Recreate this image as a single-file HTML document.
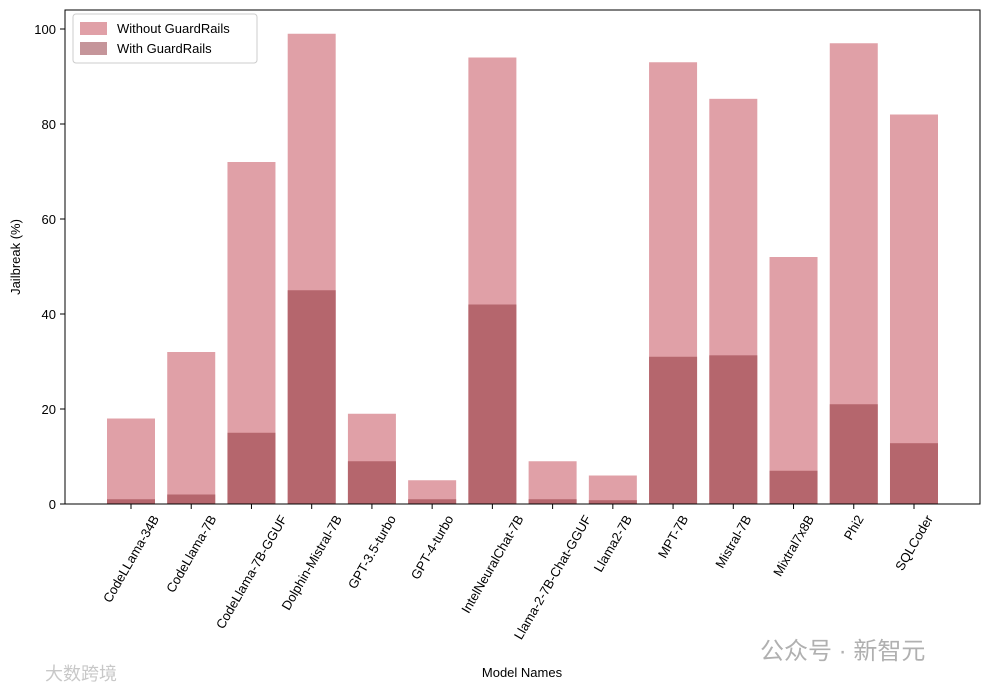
<!DOCTYPE html>
<html><head><meta charset="utf-8"><style>
body{margin:0;background:#fff;}
svg{display:block;font-family:"Liberation Sans","DejaVu Sans",sans-serif;}
</style></head><body>
<svg id="chart" width="989" height="690" viewBox="0 0 989 690" xmlns="http://www.w3.org/2000/svg">
<rect width="989" height="690" fill="#fff"/>
<g id="bars"></g>
<g id="axes"></g>
<g>
<rect x="73" y="14" width="184" height="49" fill="#fff" stroke="#ccc" rx="3"/>
<rect x="80" y="22" width="27" height="13" fill="#e0a0a7"/>
<text x="117" y="33" font-size="13">Without GuardRails</text>
<rect x="80" y="42" width="27" height="13" fill="#c5959a"/>
<text x="117" y="53" font-size="13">With GuardRails</text>
</g>
<text x="522" y="677" font-size="13" text-anchor="middle">Model Names</text>
<text transform="translate(20,257) rotate(-90)" font-size="13" text-anchor="middle">Jailbreak (%)</text>
<text x="760" y="659" font-size="24" fill="#b0b0b0" font-family="'Liberation Sans','Noto Sans CJK SC',sans-serif">公众号 · 新智元</text>
<text x="45" y="680" font-size="18" fill="#c8c8c8" font-family="'Liberation Sans','Noto Sans CJK SC',sans-serif">大数跨境</text>
</svg>
<script>
const categories=["CodeLLama-34B","CodeLlama-7B","CodeLlama-7B-GGUF","Dolphin-Mistral-7B","GPT-3.5-turbo","GPT-4-turbo","IntelNeuralChat-7B","Llama-2-7B-Chat-GGUF","Llama2-7B","MPT-7B","Mistral-7B","Mixtral7x8B","Phi2","SQLCoder"];
const withoutGuard=[18,32,72,99,19,5,94,9,6,93,85.3,52,97,82];
const withGuard=[1,2,15,45,9,1,42,1,0.8,31,31.3,7,21,12.8];
const yTicks=[0,20,40,60,80,100];
const NS="http://www.w3.org/2000/svg";
const L=65,R=980,T=10,B=504;
const y=v=>504-v*4.75;
const step=60.23, x0=131;
const x=i=>x0+i*step;
const bw=48;
const bars=document.getElementById('bars'),axes=document.getElementById('axes');
function mk(tag,at,p){const e=document.createElementNS(NS,tag);for(const k in at)e.setAttribute(k,at[k]);p.appendChild(e);return e;}
categories.forEach((c,i)=>{
 const a=mk('rect',{x:x(i)-bw/2,y:y(withoutGuard[i]),width:bw,height:B-y(withoutGuard[i]),fill:'#e0a0a7'},bars);
 
 
 const b=mk('rect',{x:x(i)-bw/2,y:y(withGuard[i]),width:bw,height:B-y(withGuard[i]),fill:'#b5666d'},bars);
 
 
 mk('line',{x1:x(i),x2:x(i),y1:B,y2:B+5,stroke:'#000'},axes);
 const t=mk('text',{x:0,y:4.5,'font-size':13,'text-anchor':'middle'},axes);
 t.textContent=c;
 
 
 const w=t.getComputedTextLength(), h=13;
 const bh=w*0.866+h*0.5;
 t.setAttribute('transform',`translate(${x(i)},${B+9+bh/2}) rotate(-60)`);
});
yTicks.forEach(v=>{
 mk('line',{x1:L-5,x2:L,y1:y(v),y2:y(v),stroke:'#000'},axes);
 const t=mk('text',{x:L-9,y:y(v)+5,'font-size':13,'text-anchor':'end'},axes);
 t.textContent=v;
 
 
});
const f=mk('rect',{x:L,y:T,width:R-L,height:B-T,fill:'none',stroke:'#000','stroke-width':1},axes);


</script>
</body></html>
